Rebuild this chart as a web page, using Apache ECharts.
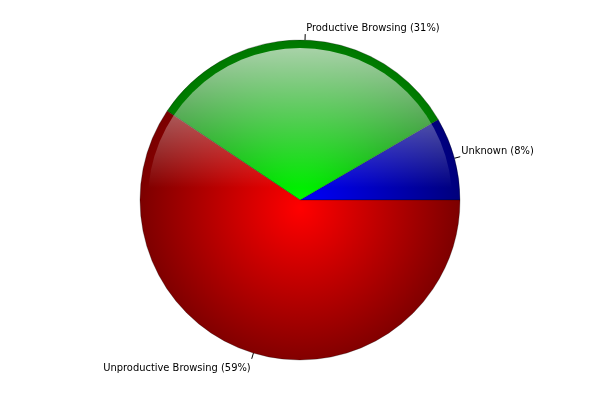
<!DOCTYPE html>
<html>
<head>
<meta charset="utf-8">
<script src="https://cdn.jsdelivr.net/npm/echarts@6/dist/echarts.min.js"></script>
<style>
  html, body { margin: 0; padding: 0; background: #fff; }
  #chart { width: 600px; height: 400px; }
</style>
</head>
<body>
<div id="chart"></div>
<script>
// slice data, counter-clockwise from 3 o'clock
const names = ['Unknown', 'Productive Browsing', 'Unproductive Browsing'];
const values = [8.4, 32.2, 59.4];
const shownPct = [8, 31, 59];
const centerColors = ['#0000ff', '#00ff00', '#ff0000'];
const edgeColors = ['#000078', '#007800', '#780000'];

const CX = 300, CY = 200, R = 160;
const font = "'DejaVu Sans Condensed', 'Liberation Sans', sans-serif";

const total = values.reduce((a, b) => a + b, 0);
let acc = 0;
const upper = [];
const slices = values.map((v, i) => {
  const mid = (acc + v / 2) / total * Math.PI * 2;
  acc += v;
  upper.push(Math.sin(mid) > 0);
  return {
    name: names[i],
    value: v,
    itemStyle: {
      color: {
        type: 'radial', x: CX, y: CY + 8, r: R + 5, global: true,
        colorStops: [
          { offset: 0, color: centerColors[i] },
          { offset: 1, color: edgeColors[i] }
        ]
      }
    }
  };
});

const chart = echarts.init(document.getElementById('chart'));
chart.setOption({
  animation: false,
  series: [
    {
      type: 'pie',
      center: [CX, CY],
      radius: R,
      startAngle: 0,
      clockwise: false,
      avoidLabelOverlap: false,
      itemStyle: { borderColor: 'rgba(0,0,0,0.25)', borderWidth: 1 },
      label: {
        show: true,
        position: 'outside',
        color: '#000',
        fontFamily: font,
        fontSize: 11,
        distanceToLabelLine: 1,
        // text sits above the tick in the upper half, below it in the lower half
        formatter: p => {
          const t = '{t|' + p.name + ' (' + shownPct[p.dataIndex] + '%)}';
          return upper[p.dataIndex] ? t + '\n{a| }' : '{b| }\n' + t;
        },
        rich: {
          t: { fontFamily: font, fontSize: 11, color: '#000', lineHeight: 12 },
          a: { fontSize: 11, lineHeight: 12 },
          b: { fontSize: 11, lineHeight: 18 }
        }
      },
      labelLine: {
        show: true,
        length: 6,
        length2: 0,
        lineStyle: { color: '#000', width: 1 }
      },
      emphasis: { disabled: true },
      data: slices
    },
    {
      // glass highlight over the upper half
      type: 'pie',
      center: [CX, CY],
      radius: R - 8,
      silent: true,
      label: { show: false },
      labelLine: { show: false },
      emphasis: { disabled: true },
      itemStyle: {
        borderWidth: 0,
        color: {
          type: 'linear', x: 0, y: CY - R + 8, x2: 0, y2: CY - 12, global: true,
          colorStops: [
            { offset: 0, color: 'rgba(255,255,255,0.66)' },
            { offset: 1, color: 'rgba(255,255,255,0)' }
          ]
        }
      },
      data: [{ value: 1 }]
    }
  ]
});
</script>
</body>
</html>
